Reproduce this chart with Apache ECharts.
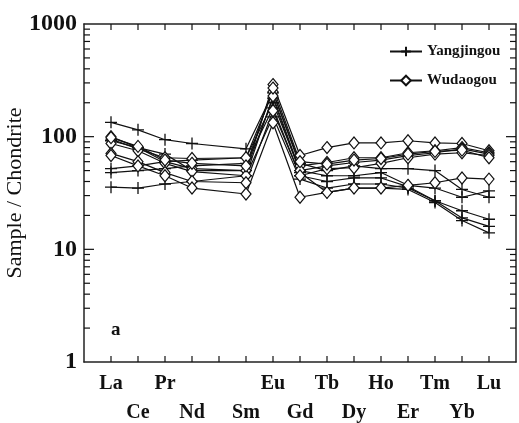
<!DOCTYPE html>
<html lang="en">
<head>
<meta charset="UTF-8">
<title>REE pattern</title>
<style>
  html, body { margin: 0; padding: 0; background: #fff; }
  #main { width: 519px; height: 423px; }
</style>
</head>
<body>
<div id="main"></div>
<script src="https://cdn.jsdelivr.net/npm/echarts@6/dist/echarts.min.js"></script>
<script>
// element order, Pm kept as an empty slot
var elements = ['La', 'Ce', 'Pr', 'Nd', 'Pm', 'Sm', 'Eu', 'Gd', 'Tb', 'Dy', 'Ho', 'Er', 'Tm', 'Yb', 'Lu'];
var lowerRow = ['Ce', 'Nd', 'Sm', 'Gd', 'Dy', 'Er', 'Yb'];
var hiddenLabels = ['Pm'];
var yTicks = [1, 10, 100, 1000];
var minorTicks = [2, 3, 4, 5, 6, 7, 8, 9, 20, 30, 40, 50, 60, 70, 80, 90, 200, 300, 400, 500, 600, 700, 800, 900];

// Yangjingou samples (chondrite normalised)
var yj1 = [134, 115, 94, 87, null, 78, 245, 58, 50, 55, 52, 52, 50, 34, 29];
var yj2 = [52, 55, 60, 62, null, 65, 200, 50, 45, 45, 48, 37, 35, 29, 33];
var yj3 = [48, 50, 52, 55, null, 58, 180, 45, 40, 43, 43, 36, 27, 22, 18.5];
var yj4 = [35.6, 35, 38, 40, null, 45, 150, 42, 35, 38, 38, 35, 27, 19, 16];
var yj5 = [92, 80, 70, 50, null, 50, 220, 48, 32, 35, 35, 34, 26, 18, 14];

// Wudaogou samples
var wd1 = [100, 80, 60, 52, null, 50, 290, 68, 80, 88, 88, 92, 88, 87, 75];
var wd2 = [95, 78, 65, 64, null, 65, 250, 55, 59, 65, 65, 72, 75, 80, 72];
var wd3 = [87, 75, 58, 49, null, 45, 230, 50, 55, 59, 62, 68, 72, 78, 70];
var wd4 = [71, 60, 48, 40, null, 39, 170, 45, 52, 53, 58, 65, 70, 72, 68];
var wd5 = [68, 55, 45, 35, null, 31, 133, 29, 32, 35, 35, 37, 39, 43, 42];
var wd6 = [98, 82, 62, 58, null, 55, 270, 60, 57, 62, 64, 70, 74, 76, 65];

var yangjingou = [yj1, yj2, yj3, yj4, yj5];
var wudaogou = [wd1, wd2, wd3, wd4, wd5, wd6];

var serif = '"Liberation Serif", "Times New Roman", serif';
var crossPath = 'path://M0,5L10,5M5,0L5,10';

function toPoints(vals) {
    var pts = [];
    vals.forEach(function (v, i) {
        if (v != null) pts.push([i, v]);
    });
    return pts;
}

var series = [];
yangjingou.forEach(function (vals) {
    series.push({
        name: 'Yangjingou',
        type: 'line',
        data: toPoints(vals),
        symbol: crossPath,
        symbolSize: 12,
        lineStyle: { color: '#111', width: 1.2 },
        itemStyle: { color: '#111', borderColor: '#111', borderWidth: 1.3 },
        z: 3
    });
});
wudaogou.forEach(function (vals) {
    series.push({
        name: 'Wudaogou',
        type: 'line',
        data: toPoints(vals),
        symbol: 'diamond',
        symbolSize: [10, 12],
        lineStyle: { color: '#111', width: 1.2 },
        itemStyle: { color: '#fff', borderColor: '#111', borderWidth: 1.2 },
        z: 4
    });
});

// log ticks drawn inward on the left (x = -1) and right (x = 15) frame
function tickSeries(values, len) {
    var data = [];
    [-1, 15].forEach(function (edge) {
        values.forEach(function (v) { data.push([edge, v]); });
    });
    return {
        type: 'custom',
        silent: true,
        clip: false,
        data: data,
        encode: { x: 0, y: 1 },
        renderItem: function (params, api) {
            var p = api.coord([api.value(0), api.value(1)]);
            var dir = api.value(0) < 0 ? 1 : -1;
            return {
                type: 'line',
                shape: { x1: p[0], y1: p[1], x2: p[0] + dir * len, y2: p[1] },
                style: { stroke: '#111', lineWidth: 1.2 }
            };
        },
        z: 6
    };
}
series.push(tickSeries(minorTicks, 6));
series.push(tickSeries(yTicks.slice(1, 3), 10));

// element ticks on top and bottom frame, pointing inward
function frameTicks() {
    return {
        type: 'custom',
        silent: true,
        clip: false,
        data: elements.map(function (e, i) { return [i, 1000]; })
            .concat(elements.map(function (e, i) { return [i, 1]; })),
        encode: { x: 0, y: 1 },
        renderItem: function (params, api) {
            var p = api.coord([api.value(0), api.value(1)]);
            var dir = api.value(1) > 1 ? 1 : -1;
            return {
                type: 'line',
                shape: { x1: p[0], y1: p[1], x2: p[0], y2: p[1] + dir * 6 },
                style: { stroke: '#111', lineWidth: 1.2 }
            };
        },
        z: 6
    };
}
series.push(frameTicks());

var option = {
    animation: false,
    backgroundColor: '#fff',
    grid: { left: 84, right: 3, top: 24, bottom: 61, outerBoundsMode: 'none', containLabel: false },
    title: {
        text: 'a',
        left: 106,
        top: 316,
        textStyle: { fontFamily: serif, fontWeight: 'bold', fontSize: 19, color: '#111' }
    },
    legend: {
        data: ['Yangjingou', 'Wudaogou'],
        orient: 'vertical',
        left: 384,
        top: 39,
        itemWidth: 32,
        itemHeight: 12,
        itemGap: 14,
        textStyle: { fontFamily: serif, fontWeight: 'bold', fontSize: 15, color: '#111' }
    },
    xAxis: [{
        type: 'value',
        min: -1,
        max: 15,
        interval: 1,
        position: 'bottom',
        axisLine: { onZero: false, lineStyle: { color: '#222', width: 1.5 } },
        axisTick: { show: false },
        splitLine: { show: false },
        axisLabel: {
            margin: 7,
            fontFamily: serif,
            fontWeight: 'bold',
            fontSize: 20,
            color: '#111',
            lineHeight: 29,
            showMinLabel: false,
            showMaxLabel: false,
            formatter: function (v) {
                var el = elements[v];
                if (!el || hiddenLabels.indexOf(el) >= 0) return '';
                return lowerRow.indexOf(el) >= 0 ? '\n' + el : el;
            }
        }
    }, {
        type: 'value',
        min: -1,
        max: 15,
        interval: 1,
        position: 'top',
        axisLine: { onZero: false, lineStyle: { color: '#222', width: 1.5 } },
        axisTick: { show: false },
        axisLabel: { show: false },
        splitLine: { show: false }
    }],
    yAxis: [{
        type: 'log',
        logBase: 10,
        min: yTicks[0],
        max: yTicks[yTicks.length - 1],
        position: 'left',
        name: 'Sample / Chondrite',
        nameLocation: 'middle',
        nameGap: 58,
        nameMoveOverlap: false,
        nameTextStyle: { fontFamily: serif, fontSize: 22, fontWeight: 'normal', color: '#111' },
        axisLine: { onZero: false, lineStyle: { color: '#222', width: 1.5 } },
        axisTick: { show: false },
        splitLine: { show: false },
        axisLabel: {
            margin: 7,
            fontFamily: serif,
            fontWeight: 'bold',
            fontSize: 24,
            color: '#111',
            formatter: function (v) { return String(v); }
        }
    }, {
        type: 'log',
        logBase: 10,
        min: yTicks[0],
        max: yTicks[yTicks.length - 1],
        position: 'right',
        axisLine: { onZero: false, lineStyle: { color: '#222', width: 1.5 } },
        axisTick: { show: false },
        axisLabel: { show: false },
        splitLine: { show: false }
    }],
    series: series
};

var myChart = echarts.init(document.getElementById('main'));
myChart.setOption(option);
</script>
</body>
</html>
